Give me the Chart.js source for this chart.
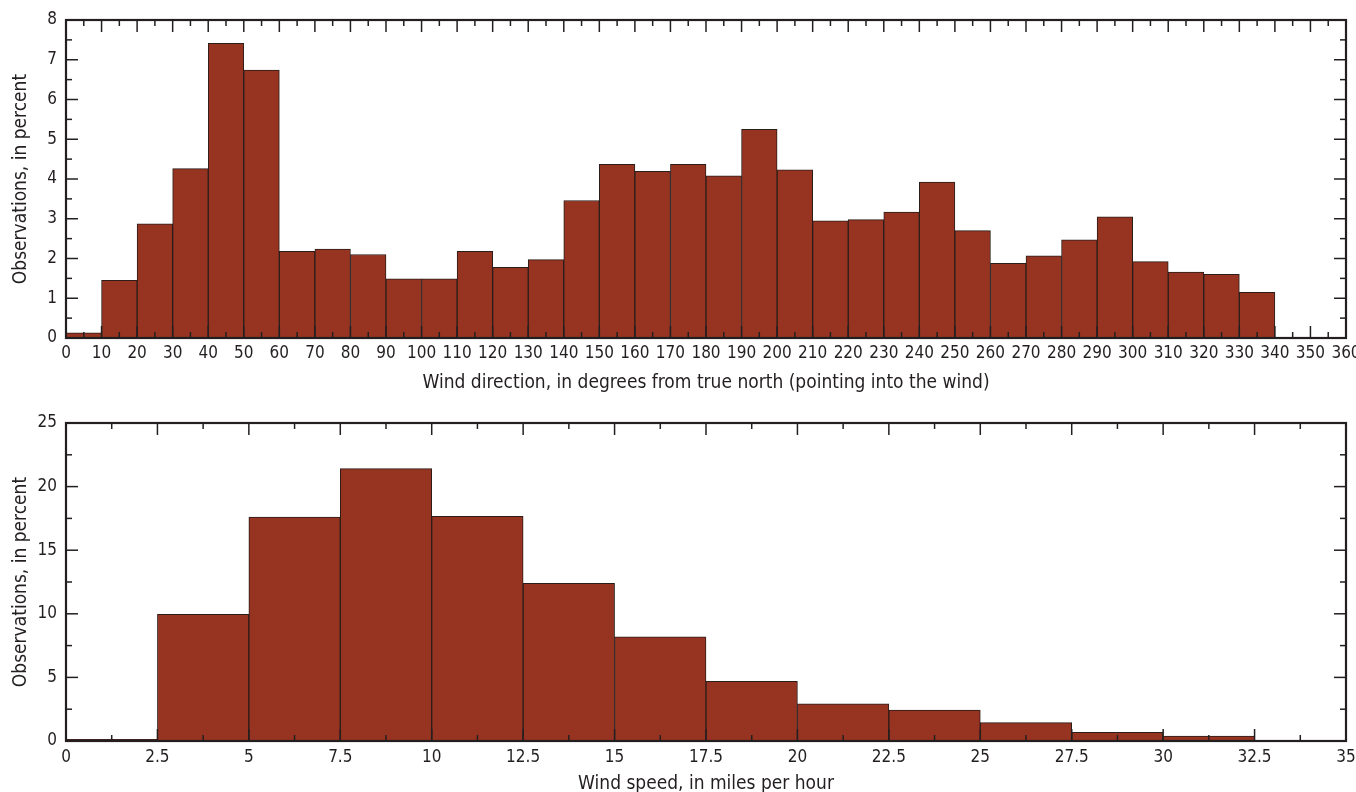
<!DOCTYPE html>
<html>
<head>
<meta charset="utf-8">
<script src="https://cdn.jsdelivr.net/npm/chart.js@4.4.1/dist/chart.umd.min.js"></script>
<style>
  html, body { margin: 0; padding: 0; background: #fff; overflow: hidden; }
  body { width: 1356px; height: 792px; position: relative; }
  canvas { position: absolute; left: 0; }
  #dirChart { top: 0; }
  #speedChart { top: 400px; }
</style>
</head>
<body>
<canvas id="dirChart" width="1356" height="400"></canvas>
<canvas id="speedChart" width="1356" height="400"></canvas>
<script>
// wind direction, 10 degree bins
const dirBins = ['0-10', '10-20', '20-30', '30-40', '40-50', '50-60', '60-70', '70-80', '80-90',
    '90-100', '100-110', '110-120', '120-130', '130-140', '140-150', '150-160', '160-170', '170-180',
    '180-190', '190-200', '200-210', '210-220', '220-230', '230-240', '240-250', '250-260', '260-270',
    '270-280', '280-290', '290-300', '300-310', '310-320', '320-330', '330-340', '340-350', '350-360']
const dirPercent = [0.13, 1.45, 2.87, 4.26, 7.41, 6.74, 2.18, 2.24, 2.10,
    1.49, 1.49, 2.18, 1.78, 1.97, 3.46, 4.37, 4.19, 4.37,
    4.08, 5.25, 4.23, 2.95, 2.98, 3.17, 3.92, 2.70, 1.88,
    2.07, 2.47, 3.05, 1.92, 1.66, 1.60, 1.15, 0.02, 0]
const dirTicks = [0, 10, 20, 30, 40, 50, 60, 70, 80, 90, 100, 110, 120, 130, 140, 150, 160, 170, 180,
    190, 200, 210, 220, 230, 240, 250, 260, 270, 280, 290, 300, 310, 320, 330, 340, 350, 360]
const dirYTicks = [0, 1, 2, 3, 4, 5, 6, 7, 8]

// wind speed, 2.5 mph bins
const speedBins = ['0-2.5', '2.5-5', '5-7.5', '7.5-10', '10-12.5', '12.5-15', '15-17.5',
    '17.5-20', '20-22.5', '22.5-25', '25-27.5', '27.5-30', '30-32.5', '32.5-35']
const speedPercent = [0.13, 9.96, 17.61, 21.41, 17.66, 12.40, 8.18, 4.69, 2.93, 2.44, 1.44, 0.68, 0.39, 0]
const speedTicks = [0, 2.5, 5, 7.5, 10, 12.5, 15, 17.5, 20, 22.5, 25, 27.5, 30, 32.5, 35]
const speedYTicks = [0, 5, 10, 15, 20, 25]

const ink = '#231f20'
const barFill = '#973421'
const barEdge = '#2a1d1a'

Chart.defaults.font.family = "'Liberation Sans Narrow', 'Arial Narrow', 'DejaVu Sans Condensed', sans-serif"
Chart.defaults.color = ink

// frame round the plot plus inward tick marks on all four sides
const frameTicks = {
    id: 'frameTicks',
    afterDatasetsDraw(chart) {
        const { ctx, chartArea: a } = chart
        const xs = chart.scales.xAxis
        const ys = chart.scales.y
        const major = 12, minor = 6
        ctx.save()
        ctx.strokeStyle = ink
        ctx.lineWidth = 1.5
        const line = (x1, y1, x2, y2) => {
            ctx.beginPath()
            ctx.moveTo(x1, y1)
            ctx.lineTo(x2, y2)
            ctx.stroke()
        }
        const xv = xs.ticks.map(t => t.value)
        xv.forEach((v, i) => {
            const x = xs.getPixelForValue(v)
            line(x, a.top, x, a.top + major)
            line(x, a.bottom, x, a.bottom - major)
            if (i < xv.length - 1) {
                const m = xs.getPixelForValue((v + xv[i + 1]) / 2)
                line(m, a.top, m, a.top + minor)
                line(m, a.bottom, m, a.bottom - minor)
            }
        })
        const yv = ys.ticks.map(t => t.value)
        yv.forEach((v, i) => {
            const y = ys.getPixelForValue(v)
            line(a.left, y, a.left + major, y)
            line(a.right, y, a.right - major, y)
            if (i < yv.length - 1) {
                const m = ys.getPixelForValue((v + yv[i + 1]) / 2)
                line(a.left, m, a.left + minor, m)
                line(a.right, m, a.right - minor, m)
            }
        })
        ctx.lineWidth = 2.2
        ctx.strokeRect(a.left, a.top, a.right - a.left, a.bottom - a.top)
        ctx.restore()
    }
}

function histogram(canvasId, bins, values, xTicks, yTicks, cfg) {
    return new Chart(document.getElementById(canvasId), {
        type: 'bar',
        data: {
            labels: bins,
            datasets: [{
                data: values,
                backgroundColor: barFill,
                borderColor: barEdge,
                borderWidth: 1,
                barPercentage: 1,
                categoryPercentage: 1,
                xAxisID: 'x',
                yAxisID: 'y'
            }]
        },
        options: {
            responsive: false,
            animation: false,
            devicePixelRatio: 1,
            layout: { padding: { top: cfg.top, right: 10, left: 0, bottom: 0 } },
            plugins: { legend: { display: false }, tooltip: { enabled: false } },
            scales: {
                // bins sit on a hidden category axis, the visible numeric axis carries the ticks
                x: { type: 'category', display: false, offset: true },
                xAxis: {
                    type: 'linear',
                    position: 'bottom',
                    offset: false,
                    min: xTicks[0],
                    max: xTicks[xTicks.length - 1],
                    afterBuildTicks: s => { s.ticks = xTicks.map(v => ({ value: v })) },
                    afterFit: s => { s.height = cfg.xHeight; s.paddingLeft = 0; s.paddingRight = 0 },
                    grid: { display: false, drawTicks: false, offset: false },
                    border: { display: false },
                    ticks: { padding: cfg.tickPad, font: { size: 17 }, maxRotation: 0, autoSkip: false, callback: v => String(v) },
                    title: { display: true, text: cfg.xTitle, font: { size: 19 }, padding: { top: 0, bottom: cfg.titlePad } }
                },
                y: {
                    type: 'linear',
                    min: yTicks[0],
                    max: yTicks[yTicks.length - 1],
                    afterBuildTicks: s => { s.ticks = yTicks.map(v => ({ value: v })) },
                    afterFit: s => { s.width = 66; s.paddingTop = 0; s.paddingBottom = 0 },
                    grid: { display: false, drawTicks: false },
                    border: { display: false },
                    ticks: { padding: 9, font: { size: 17 }, callback: v => String(v) },
                    title: { display: true, text: 'Observations, in percent', font: { size: 19 }, padding: { top: 10, bottom: 0 } }
                }
            }
        },
        plugins: [frameTicks]
    })
}

const dirChart = histogram('dirChart', dirBins, dirPercent, dirTicks, dirYTicks, {
    top: 20, xHeight: 62, tickPad: 5, titlePad: 6,
    xTitle: 'Wind direction, in degrees from true north (pointing into the wind)'
})

const speedChart = histogram('speedChart', speedBins, speedPercent, speedTicks, speedYTicks, {
    top: 23, xHeight: 59, tickPad: 6, titlePad: 5,
    xTitle: 'Wind speed, in miles per hour'
})
</script>
</body>
</html>
